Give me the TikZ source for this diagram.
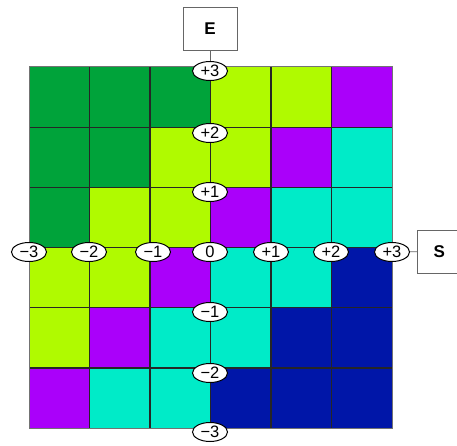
\documentclass[tikz,border=0pt]{standalone}
\usepackage{fontspec}
\setmainfont{Liberation Sans}
\definecolor{dgreen}{RGB}{0,163,58}
\definecolor{lime}{RGB}{176,250,0}
\definecolor{violet}{RGB}{170,0,250}
\definecolor{aqua}{RGB}{0,235,200}
\definecolor{navy}{RGB}{0,22,168}
\tikzset{
  axlabel/.style={ellipse, draw=black, line width=1pt, fill=white, minimum width=35pt, minimum height=19pt, inner sep=0pt, font=\fontsize{16.5}{16.5}\selectfont},
  keybox/.style={rectangle, draw=black!60, line width=0.8pt, fill=white, inner sep=0pt, font=\bfseries\fontsize{17}{17}\selectfont},
  gridln/.style={draw=black!85, line width=1.1pt},
  link/.style={draw=black!60, line width=0.8pt}
}
\usetikzlibrary{shapes.geometric}
\begin{document}
\begin{tikzpicture}[x=1pt,y=-1pt]
\useasboundingbox (0,0) rectangle (457,446);
% cell colours, rows top to bottom
\def\cw{60.5}
\def\ch{60.2}
\foreach \r/\row in {0/{dgreen,dgreen,dgreen,lime,lime,violet},
                     1/{dgreen,dgreen,lime,lime,violet,aqua},
                     2/{dgreen,lime,lime,violet,aqua,aqua},
                     3/{lime,lime,violet,aqua,aqua,navy},
                     4/{lime,violet,aqua,aqua,navy,navy},
                     5/{violet,aqua,aqua,navy,navy,navy}}{
  \foreach \c [count=\i from 0] in \row {
    \fill[\c] ({29+\i*\cw},{67+\r*\ch}) rectangle ++(\cw,\ch);
  }
}
% grid lines
\foreach \k in {1,...,5}{
  \draw[gridln] ({29+\k*\cw},67) -- ({29+\k*\cw},428.2);
  \draw[gridln] (29,{67+\k*\ch}) -- (392,{67+\k*\ch});
}
\draw[draw=black!55, line width=1pt] (29,67) rectangle (392,428.2);
% key boxes
\node[keybox, minimum width=54pt, minimum height=43pt] (E) at (210,28.5) {E};
\node[keybox, minimum width=44pt, minimum height=43pt, anchor=west] (S) at (417,251.5) {S};
% vertical axis labels
\foreach \n/\t/\y in {v3/+3/71,v2/+2/133,v1/+1/192,vm1/−1/312,vm2/−2/373,vm3/−3/432}{
  \node[axlabel] (\n) at (210,\y) {\t};
}
% horizontal axis labels
\foreach \n/\t/\x in {hm3/−3/29,hm2/−2/89,hm1/−1/153,h0/0/210,h1/+1/271,h2/+2/331,h3/+3/392}{
  \node[axlabel] (\n) at (\x,252) {\t};
}
\draw[link] (E) -- (v3);
\draw[link] (h3) -- (S);
\end{tikzpicture}
\end{document}
